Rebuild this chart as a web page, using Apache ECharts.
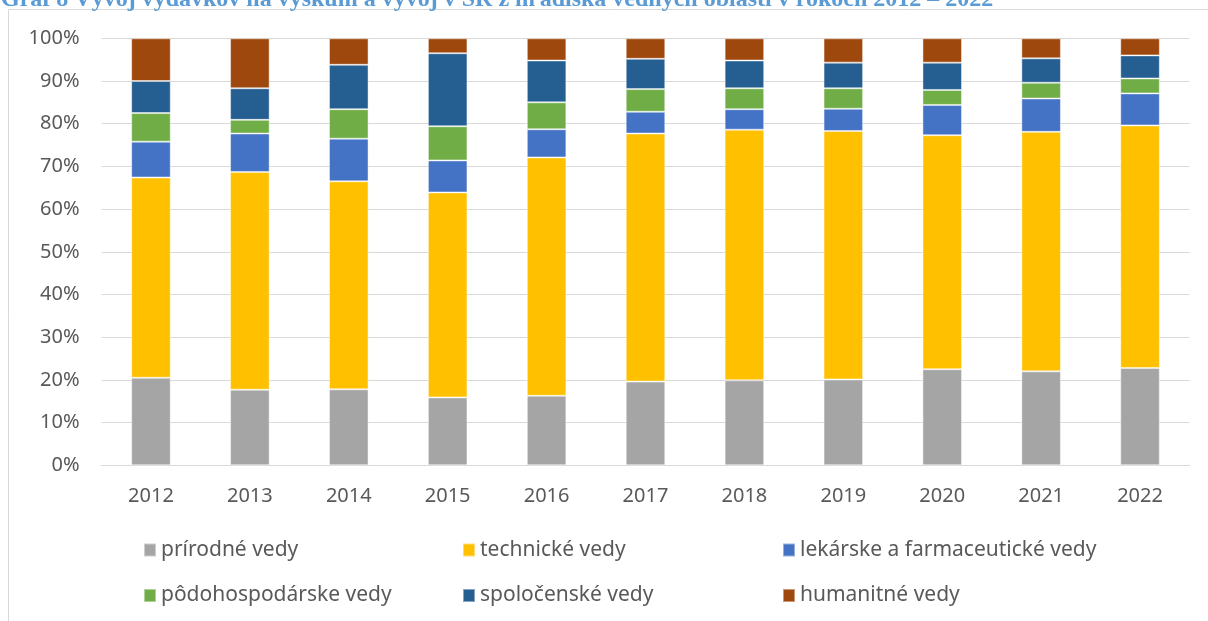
<!DOCTYPE html>
<html>
<head>
<meta charset="utf-8">
<title>Graf 8</title>
<script src="https://cdn.jsdelivr.net/npm/echarts@6/dist/echarts.min.js"></script>
<style>
  html, body { margin: 0; padding: 0; background: #fff; }
  #chart { width: 1208px; height: 621px; }
</style>
</head>
<body>
<div id="chart"></div>
<script>
// roky
const years = ['2012', '2013', '2014', '2015', '2016', '2017', '2018', '2019', '2020', '2021', '2022'];

// podiely vedných oblastí v % (odčítané z grafu)
const prirodne      = [20.5, 17.7, 17.8, 15.9, 16.3, 19.6, 19.9, 20.1, 22.5, 22.0, 22.8];
const technicke     = [46.9, 51.0, 48.7, 48.0, 55.8, 58.1, 58.7, 58.2, 54.8, 56.1, 56.8];
const lekarske      = [8.4, 9.0, 10.0, 7.5, 6.6, 5.1, 4.8, 5.2, 7.1, 7.8, 7.5];
const podohospodar  = [6.7, 3.2, 6.9, 8.0, 6.3, 5.3, 4.9, 4.8, 3.5, 3.7, 3.5];
const spolocenske   = [7.5, 7.4, 10.4, 17.1, 9.8, 7.1, 6.5, 6.0, 6.4, 5.7, 5.4];
const humanitne     = [10.0, 11.7, 6.2, 3.5, 5.2, 4.8, 5.2, 5.7, 5.7, 4.7, 4.0];

const names = ['prírodné vedy', 'technické vedy', 'lekárske a farmaceutické vedy',
  'pôdohospodárske vedy', 'spoločenské vedy', 'humanitné vedy'];
const values = [prirodne, technicke, lekarske, podohospodar, spolocenske, humanitne];
const colors = ['#A5A5A5', '#FFC000', '#4472C4', '#70AD47', '#255E91', '#9E480E'];

const font = '"Noto Sans", sans-serif';

let chart = echarts.init(document.getElementById('chart'), null, { renderer: 'canvas' });

// legenda v dvoch riadkoch po troch
const legendCols = [143, 462, 782];
const legendRows = [539.5, 585];
let legends = names.map(function (n, i) {
  return {
    data: [n],
    left: legendCols[i % 3],
    top: legendRows[Math.floor(i / 3)],
    padding: 0,
    itemWidth: 12,
    itemHeight: 13,
    itemGap: 0,
    icon: 'rect',
    selectedMode: false,
    textStyle: { fontFamily: font, fontSize: 21, color: '#595959', lineHeight: 20, padding: [0, 0, 0, 0] }
  };
});

let option = {
  animation: false,
  color: colors,
  graphic: [
    {
      type: 'rect',
      shape: { x: 8.5, y: 9.5, width: 1400, height: 800 },
      style: { fill: 'none', stroke: '#D9D9D9', lineWidth: 1 },
      silent: true
    },
    {
      type: 'text',
      left: 1,
      top: -12,
      style: {
        text: 'Graf 8 Vývoj výdavkov na výskum a vývoj v SR z hľadiska vedných oblastí v rokoch 2012 – 2022',
        fontFamily: '"Liberation Serif", serif',
        fontWeight: 'bold',
        fontSize: 24,
        fill: '#5B9BD5'
      },
      silent: true
    }
  ],
  legend: legends,
  grid: { left: 101.5, right: 18.5, top: 38.3, bottom: 155.7, containLabel: false },
  xAxis: {
    type: 'category',
    data: years,
    axisLine: { show: true, lineStyle: { color: '#D9D9D9', width: 1 } },
    axisTick: { show: false },
    axisLabel: { fontFamily: font, fontSize: 20, color: '#595959', margin: 21, lineHeight: 20 }
  },
  yAxis: {
    type: 'value',
    min: 0,
    max: 100,
    interval: 10,
    axisLine: { show: false },
    axisTick: { show: false },
    axisLabel: { fontFamily: font, fontSize: 20, color: '#595959', margin: 22, formatter: '{value}%' },
    splitLine: { lineStyle: { color: '#D9D9D9', width: 1 } }
  },
  series: names.map(function (n, i) {
    return {
      name: n,
      type: 'bar',
      stack: 'total',
      barWidth: '40%',
      data: values[i],
      itemStyle: { borderColor: 'rgba(255,255,255,0.45)', borderWidth: 1 }
    };
  })
};

chart.setOption(option);
</script>
</body>
</html>
